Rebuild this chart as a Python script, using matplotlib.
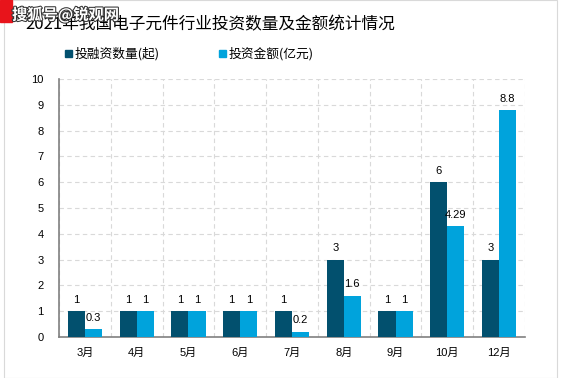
import matplotlib
matplotlib.use("Agg")
import matplotlib.pyplot as plt
import matplotlib.patheffects as pe
import numpy as np
from matplotlib.patches import Rectangle

plt.rcParams['font.family'] = ['Liberation Sans', 'Noto Sans CJK SC', 'DejaVu Sans']

months = ["3月", "4月", "5月", "6月", "7月", "8月", "9月", "10月", "12月"]
counts = [1, 1, 1, 1, 1, 3, 1, 6, 3]
amounts = [0.3, 1, 1, 1, 0.2, 1.6, 1, 4.29, 8.8]
count_labels = ["1", "1", "1", "1", "1", "3", "1", "6", "3"]
amount_labels = ["0.3", "1", "1", "1", "0.2", "1.6", "1", "4.29", "8.8"]
series_names = ["投融资数量(起)", "投资金额(亿元)"]
title = "2021年我国电子元件行业投资数量及金额统计情况"

dark = "#02506E"
light = "#00A3DC"
cjk = ['Noto Sans CJK SC', 'DejaVu Sans']

fig = plt.figure(figsize=(5.67, 3.78), dpi=100)
W, H = 567, 378
ax = fig.add_axes([59 / W, 1 - 337 / H, (525 - 59) / W, (337 - 79) / H])

x = np.arange(len(months))
bw = 0.33
ax.bar(x - bw / 2, counts, bw, color=dark, zorder=3)
ax.bar(x + bw / 2, amounts, bw, color=light, zorder=3)

for xi, v, s in zip(x, counts, count_labels):
    ax.text(xi - bw / 2, v + 0.25, s, ha="center", va="bottom", fontsize=8)
for xi, v, s in zip(x, amounts, amount_labels):
    ax.text(xi + bw / 2, v + 0.25, s, ha="center", va="bottom", fontsize=8)

ax.set_xlim(-0.5, len(months) - 0.5)
ax.set_ylim(0, 10)
ax.set_yticks(range(0, 11))
ax.set_xticks(x)
ax.set_xticklabels(months, fontsize=8)
ax.tick_params(axis="y", labelsize=8, length=0, pad=11)
ax.tick_params(axis="x", length=0, pad=8)
ax.set_xticks(np.arange(-0.5, len(months), 1), minor=True)
ax.tick_params(axis="x", which="minor", length=0)
ax.grid(axis="y", which="major", color="#D9D9D9", linestyle=(0, (4, 3)), linewidth=0.8, zorder=0)
ax.grid(axis="x", which="minor", color="#D9D9D9", linestyle=(0, (4, 3)), linewidth=0.8, zorder=0)
ax.grid(axis="x", which="major", visible=False)
for s in ["top", "right"]:
    ax.spines[s].set_visible(False)
ax.spines["left"].set_color("#808080")
ax.spines["bottom"].set_color("#808080")
ax.spines["left"].set_linewidth(1.2)
ax.spines["bottom"].set_linewidth(1.2)

# legend
fig.patches.append(Rectangle((65 / W, 1 - 57 / H), 7 / W, 7 / H, transform=fig.transFigure, color=dark))
fig.text(75 / W, 1 - 53.5 / H, series_names[0], fontsize=9.2, va="center", ha="left", family=cjk)
fig.patches.append(Rectangle((219 / W, 1 - 57 / H), 7 / W, 7 / H, transform=fig.transFigure, color=light))
fig.text(229 / W, 1 - 53.5 / H, series_names[1], fontsize=9.2, va="center", ha="left", family=cjk)

fig.text(25 / W, 1 - 25 / H, title, fontsize=12, va="center", ha="left", family=cjk)

# outer frame
fig.patches.append(Rectangle((4 / W, 0), (557 - 4) / W, 1, transform=fig.transFigure,
                             fill=False, edgecolor="#D9D9D9", linewidth=0.8))

# watermark
fig.patches.append(Rectangle((0, 1 - 22 / H), 12 / W, 22 / H, transform=fig.transFigure, color="#E8141B"))
fig.text(12 / W, 1 - 15 / H, "搜狐号@锐观网", fontsize=11, va="center", ha="left", color="white",
         fontweight="bold", family=cjk,
         path_effects=[pe.withStroke(linewidth=1.5, foreground="#333333")])

fig.savefig("out.png", dpi=100)
